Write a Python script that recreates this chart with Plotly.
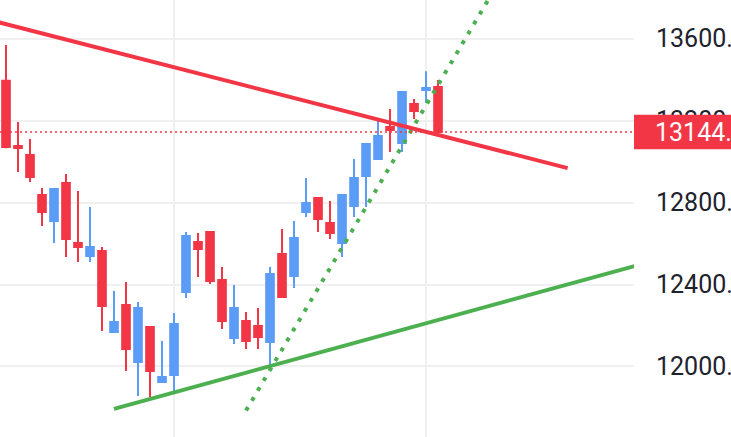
import plotly.graph_objects as go

# ---- data ----
idx = list(range(37))
opens  = [13394, 13076, 13032, 12837, 12710, 12895, 12602, 12539, 12563, 12168,
          12300, 12022, 12193, 11924, 11959, 12363, 12607, 12656, 12422, 12139,
          12222, 12198, 12120, 12549, 12441, 12754, 12822, 12700, 12602, 12783,
          12929, 13012, 13168, 13090, 13281, 13349, 13363]
highs  = [13568, 13193, 13110, 12871, 12871, 12939, 12856, 12778, 12583, 12368,
          12412, 12315, 12193, 12124, 12261, 12656, 12651, 12656, 12485, 12398,
          12266, 12285, 12485, 12671, 12710, 12920, 12827, 12807, 12837, 13012,
          13090, 13212, 13256, 13344, 13305, 13441, 13398]
lows   = [13065, 12949, 12900, 12685, 12602, 12534, 12510, 12510, 12173, 12168,
          11978, 11856, 11851, 11924, 11876, 12334, 12437, 12402, 12183, 12110,
          12085, 12085, 11983, 12339, 12383, 12729, 12656, 12622, 12534, 12729,
          12778, 13012, 13046, 13046, 13207, 13285, 13144]
closes = [13071, 13066, 12924, 12754, 12866, 12622, 12583, 12583, 12295, 12217,
          12085, 12285, 11978, 11949, 12207, 12637, 12573, 12417, 12222, 12285,
          12124, 12144, 12451, 12339, 12627, 12798, 12720, 12651, 12837, 12920,
          13085, 13124, 13154, 13339, 13246, 13359, 13144]

red_trend_x = [-1, 46.8]
red_trend_y = [13685, 12968]
green_trend_x = [9.0, 53]
green_trend_y = [11793, 12500]
green_dotted_x = [20, 41]
green_dotted_y = [11785, 13870]

y_ticks = [12000, 12400, 12800, 13200, 13600]
x_grid = [14, 35]

RED = "#f23645"
BLUE = "#5b9cf6"
GREEN = "#4caf50"
last_price = closes[-1]

fig = go.Figure()

fig.add_trace(go.Scatter(
    x=green_trend_x, y=green_trend_y, mode="lines",
    line=dict(color=GREEN, width=4), hoverinfo="skip", showlegend=False))
fig.add_trace(go.Scatter(
    x=green_dotted_x, y=green_dotted_y, mode="lines",
    line=dict(color=GREEN, width=4, dash="4px,7.5px"), hoverinfo="skip", showlegend=False))

fig.add_trace(go.Candlestick(
    x=idx, open=opens, high=highs, low=lows, close=closes,
    increasing=dict(line=dict(color=BLUE, width=2), fillcolor=BLUE),
    decreasing=dict(line=dict(color=RED, width=2), fillcolor=RED),
    whiskerwidth=0, showlegend=False))

fig.add_trace(go.Scatter(
    x=red_trend_x, y=red_trend_y, mode="lines",
    line=dict(color=RED, width=4), hoverinfo="skip", showlegend=False))

# current price dotted line
fig.add_shape(type="line", xref="paper", yref="y", x0=0, x1=1,
              y0=last_price, y1=last_price,
              line=dict(color=RED, width=1.5, dash="2px,3px"), layer="above")
# price label box
fig.add_shape(type="rect", xref="paper", yref="y", x0=1, x1=1.2,
              y0=last_price - 84, y1=last_price + 84,
              fillcolor=RED, line=dict(width=0), layer="above")
fig.add_annotation(xref="paper", yref="y", x=1, y=last_price,
                   xanchor="left", yanchor="middle", xshift=19,
                   text=f"{last_price:.1f}", showarrow=False,
                   font=dict(family="Roboto", size=25, color="white"))

fig.update_layout(
    width=731, height=437,
    margin=dict(l=0, r=97, t=0, b=0, autoexpand=False),
    paper_bgcolor="white", plot_bgcolor="white",
    boxgap=0.25, boxgroupgap=0.15,
    showlegend=False,
    xaxis=dict(range=[-0.5, 52.33], tickvals=x_grid, showticklabels=False,
               showgrid=True, gridcolor="#f0f0f0", gridwidth=2,
               zeroline=False, showline=False, ticks="", automargin=False,
               rangeslider=dict(visible=False), fixedrange=True),
    yaxis=dict(side="right", range=[11656, 13788], tickvals=y_ticks,
               tickformat=".1f", showgrid=True, gridcolor="#f0f0f0", gridwidth=2,
               zeroline=False, showline=False, ticks="", automargin=False,
               ticklabelstandoff=21,
               tickfont=dict(family="Roboto", size=25, color="#1e222d"),
               fixedrange=True),
)

fig.write_html("out.html", config={"displayModeBar": False},
               post_script="document.body.style.margin='0';document.body.style.overflow='hidden';")
